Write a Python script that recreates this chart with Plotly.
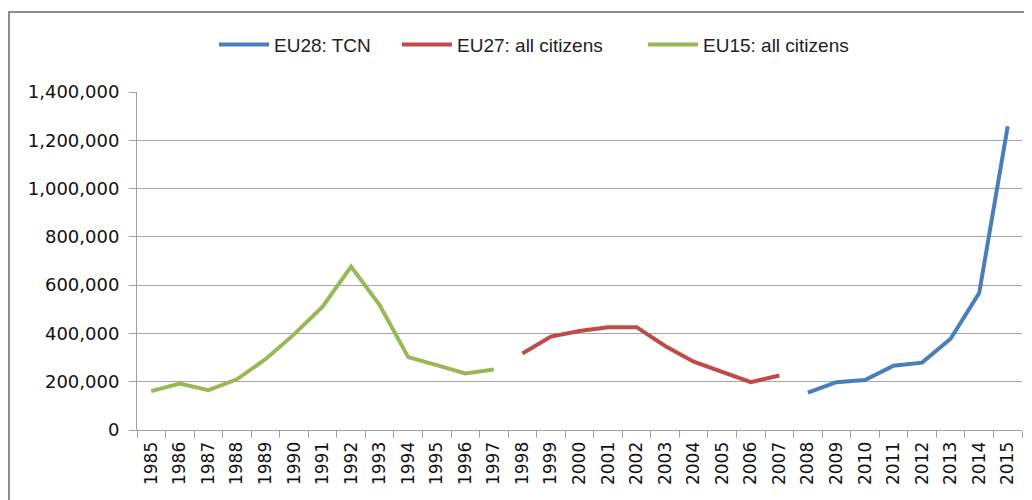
import plotly.graph_objects as go

years = [str(y) for y in range(1985, 2016)]

eu15_years = [str(y) for y in range(1985, 1998)]
eu15_values = [161000, 192000, 165000, 210000, 293000, 396000, 511000, 677000, 517000, 302000, 269000, 234000, 251000]

eu27_years = [str(y) for y in range(1998, 2008)]
eu27_values = [317000, 387000, 410000, 426000, 426000, 348000, 283000, 240000, 198000, 226000]

eu28_years = [str(y) for y in range(2008, 2016)]
eu28_values = [155000, 198000, 207000, 266000, 279000, 378000, 567000, 1258000]

y_ticks = [0, 200000, 400000, 600000, 800000, 1000000, 1200000, 1400000]

W, H = 1024, 492
ML, MT, MR, MB = 129, 84, 10, 70
PW = W - ML - MR
PH = H - MT - MB


def px_to_paper_x(page_x):
    return (page_x - 8 - ML) / PW


fig = go.Figure()
fig.add_trace(go.Scatter(x=eu28_years, y=eu28_values, mode="lines", name="EU28: TCN",
                         line=dict(color="#4A7EBB", width=4), legend="legend"))
fig.add_trace(go.Scatter(x=eu27_years, y=eu27_values, mode="lines", name="EU27: all citizens",
                         line=dict(color="#BE4B48", width=4), legend="legend2"))
fig.add_trace(go.Scatter(x=eu15_years, y=eu15_values, mode="lines", name="EU15: all citizens",
                         line=dict(color="#98B954", width=4), legend="legend3"))

legend_font = dict(family="Liberation Sans Narrow, Arial Narrow, Liberation Sans", size=19, color="#222")


def make_legend(page_x):
    return dict(orientation="h", x=px_to_paper_x(page_x), xanchor="left", y=1.14, yanchor="middle",
                font=legend_font, itemwidth=50, bgcolor="rgba(0,0,0,0)")


fig.update_layout(
    width=W, height=H,
    margin=dict(l=ML, r=MR, t=MT, b=MB, autoexpand=False),
    paper_bgcolor="white", plot_bgcolor="white",
    showlegend=True,
    legend=make_legend(214),
    legend2=make_legend(397),
    legend3=make_legend(643),
    xaxis=dict(type="category", categoryorder="array", categoryarray=years,
               tickmode="array", tickvals=years, ticktext=years,
               tickangle=-90, tickson="boundaries", ticks="outside", ticklen=7,
               tickcolor="#A0A0A0", showline=True, linecolor="#A0A0A0", linewidth=1,
               showgrid=False, zeroline=False,
               tickfont=dict(family="DejaVu Sans", size=17, color="#111"),
               ticklabelstandoff=4,
               range=[-0.5, 30.5]),
    yaxis=dict(range=[0, 1400000], tickmode="array", tickvals=y_ticks,
               tickformat=",", ticks="outside", ticklen=7, tickcolor="#A0A0A0",
               showline=True, linecolor="#A0A0A0", linewidth=1,
               showgrid=True, gridcolor="#A6A6A6", gridwidth=1, zeroline=False,
               tickfont=dict(family="DejaVu Sans", size=18, color="#111"),
               ticklabelstandoff=6),
    shapes=[dict(type="rect", xref="paper", yref="paper",
                 x0=(1 - ML) / PW, x1=2.0,
                 y0=-0.6, y1=(PH + MT - 4) / PH,
                 line=dict(color="#8C8C8C", width=2), fillcolor="rgba(0,0,0,0)", layer="below")],
)

fig.write_html("out.html")
